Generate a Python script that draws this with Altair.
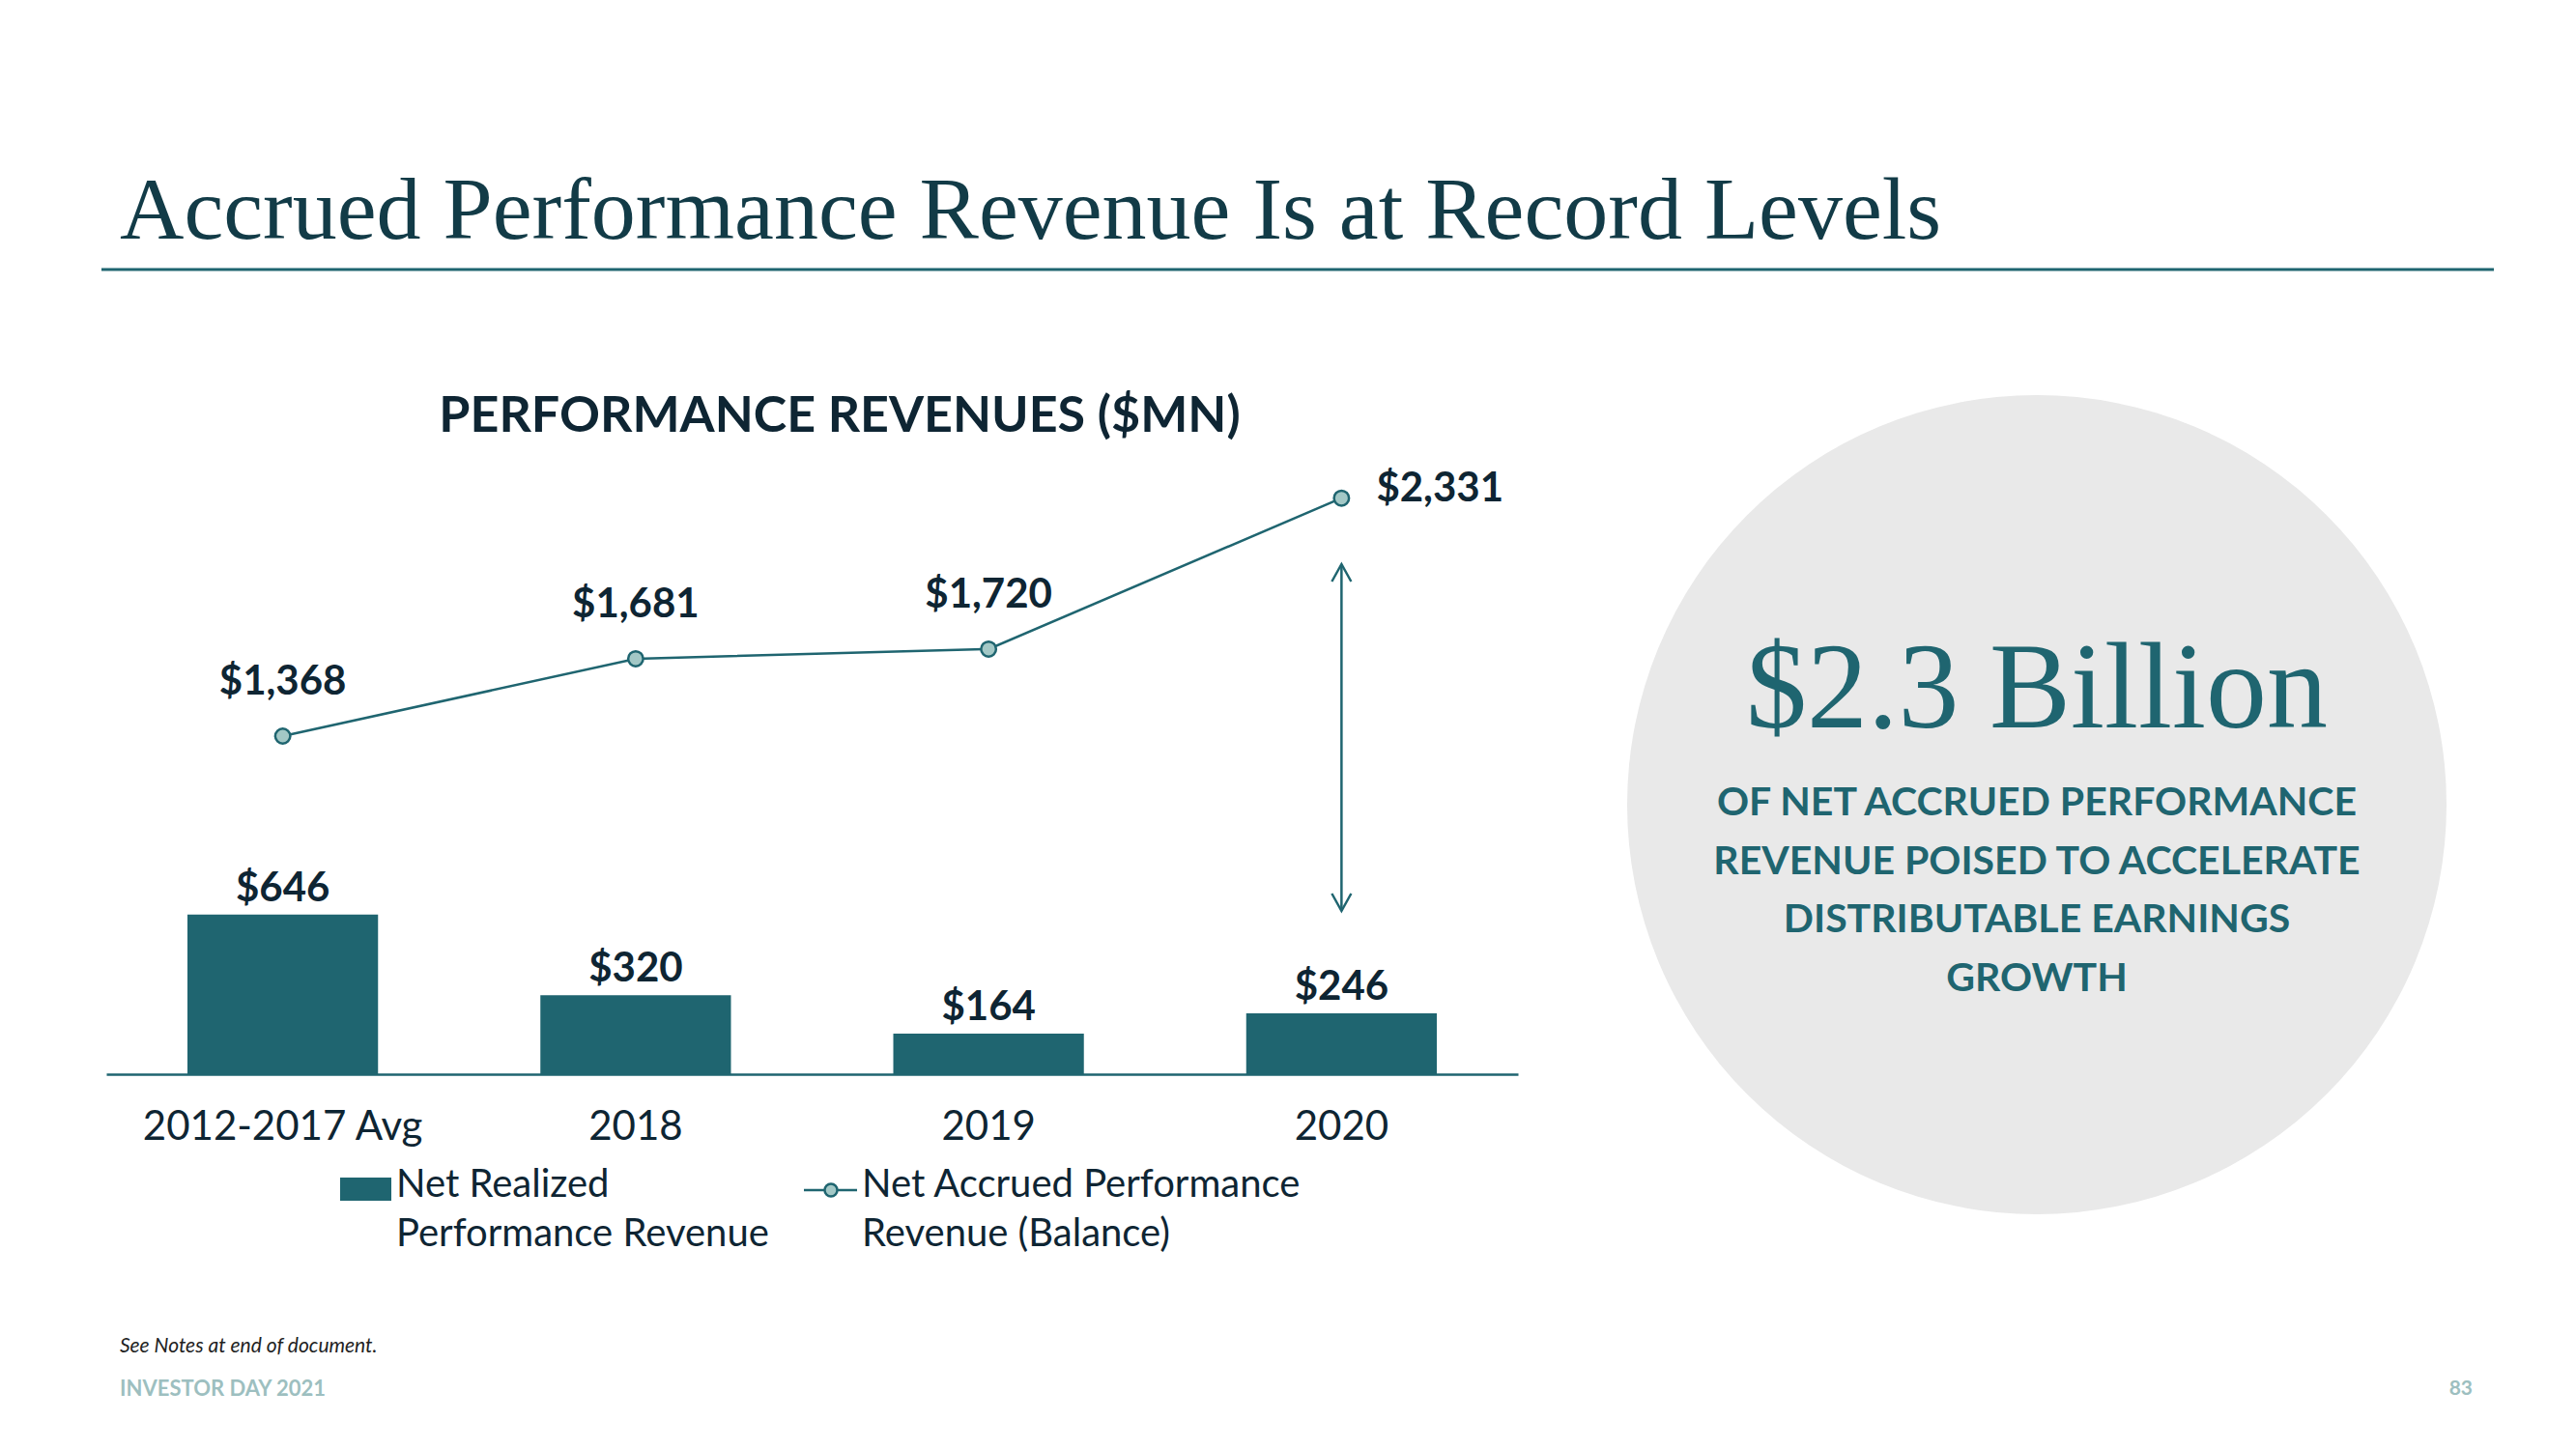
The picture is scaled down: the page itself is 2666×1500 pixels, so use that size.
import altair as alt
import pandas as pd

# ---- data ----
categories = ["2012-2017 Avg", "2018", "2019", "2020"]
realized = [646, 320, 164, 246]
accrued = [1368, 1681, 1720, 2331]
realized_labels = ["$646", "$320", "$164", "$246"]
accrued_labels = ["$1,368", "$1,681", "$1,720", "$2,331"]

title_text = "Accrued Performance Revenue Is at Record Levels"
chart_title = "PERFORMANCE REVENUES ($MN)"
big_number = "$2.3 Billion"
callout_lines = ["OF NET ACCRUED PERFORMANCE", "REVENUE POISED TO ACCELERATE",
                 "DISTRIBUTABLE EARNINGS", "GROWTH"]
legend_bar_lines = ["Net Realized", "Performance Revenue"]
legend_line_lines = ["Net Accrued Performance", "Revenue (Balance)"]
footnote = "See Notes at end of document."
footer_left = "INVESTOR DAY 2021"
footer_right = "83"

TEAL = "#1f6570"
DARK = "#0e2533"
LIGHT_PT = "#a3c8c6"
SANS = "Lato"
SERIF = "Liberation Serif"

df = pd.DataFrame({
    "cat": categories,
    "realized": realized,
    "accrued": accrued,
    "rlab": realized_labels,
    "alab": accrued_labels,
})

W, H = 1461, 712
YMAX = 2783

x_enc = alt.X("cat:N", sort=categories,
              scale=alt.Scale(paddingInner=0.46, paddingOuter=0.23),
              axis=alt.Axis(title=None, labelAngle=0, labelFont=SANS, labelFontSize=42,
                            labelColor=DARK, labelPadding=34, ticks=False, labelLimit=1000,
                            domainColor=TEAL, domainWidth=2.5, grid=False))
y_scale = alt.Scale(domain=[0, YMAX])

base = alt.Chart(df)

bars = base.mark_bar(color=TEAL).encode(
    x=x_enc, y=alt.Y("realized:Q", scale=y_scale, axis=None))
bar_text = base.mark_text(font=SANS, fontSize=42, fontWeight="bold", color=DARK,
                          baseline="alphabetic", dy=-14).encode(
    x=alt.X("cat:N", sort=categories), y=alt.Y("realized:Q", scale=y_scale), text="rlab:N")

line = base.mark_line(color=TEAL, strokeWidth=2.5).encode(
    x=alt.X("cat:N", sort=categories), y=alt.Y("accrued:Q", scale=y_scale))
pts = base.mark_circle(color=LIGHT_PT, stroke=TEAL, strokeWidth=2.5, opacity=1, size=240).encode(
    x=alt.X("cat:N", sort=categories), y=alt.Y("accrued:Q", scale=y_scale))
line_text = base.transform_filter(alt.datum.cat != "2020").mark_text(
    font=SANS, fontSize=42, fontWeight="bold", color=DARK, baseline="middle", dy=-56).encode(
    x=alt.X("cat:N", sort=categories), y=alt.Y("accrued:Q", scale=y_scale), text="alab:N")
last_text = base.transform_filter(alt.datum.cat == "2020").mark_text(
    font=SANS, fontSize=42, fontWeight="bold", color=DARK, baseline="middle", align="left",
    dx=36, dy=-10).encode(
    x=alt.X("cat:N", sort=categories), y=alt.Y("accrued:Q", scale=y_scale), text="alab:N")

# double arrow at 2020
arrow_df = pd.DataFrame({"cat": ["2020"]})
arrow_base = alt.Chart(arrow_df)
arrow = arrow_base.mark_rule(color=TEAL, strokeWidth=2.5).encode(
    x=alt.X("cat:N", sort=categories), y=alt.value(184), y2=alt.value(543))
head_up = arrow_base.mark_point(shape="M-1,1.8L0,0L1,1.8", filled=False, color=TEAL,
                                strokeWidth=2.5, size=400, opacity=1).encode(
    x=alt.X("cat:N", sort=categories), y=alt.value(184))
head_dn = arrow_base.mark_point(shape="M-1,-1.8L0,0L1,-1.8", filled=False, color=TEAL,
                                strokeWidth=2.5, size=400, opacity=1).encode(
    x=alt.X("cat:N", sort=categories), y=alt.value(543))

one = pd.DataFrame({"a": [0]})


def txt(s, x, y, **kw):
    return alt.Chart(one).mark_text(text=s, **kw).encode(x=alt.value(x), y=alt.value(y))


layers = []
# page title and rule
layers.append(txt(title_text, 14, -153, font=SERIF, fontSize=92, color="#123b47",
                  align="left", baseline="alphabetic"))
layers.append(alt.Chart(one).mark_rule(color=TEAL, strokeWidth=3).encode(
    x=alt.value(-5), x2=alt.value(2471), y=alt.value(-121)))
# chart title
layers.append(txt(chart_title, 759, 47, font=SANS, fontSize=52, fontWeight="bold", color=DARK,
                  align="center", baseline="alphabetic"))
# circle callout
layers.append(alt.Chart(one).mark_point(shape="circle", filled=True, color="#e9e9e9",
                                        opacity=1, size=848 * 848).encode(
    x=alt.value(1998), y=alt.value(433)))
layers.append(txt(big_number, 1998, 353, font=SERIF, fontSize=126, color=TEAL,
                  align="center", baseline="alphabetic"))
for i, s in enumerate(callout_lines):
    layers.append(txt(s, 1998, 444 + i * 60.5, font=SANS, fontSize=41, fontWeight="bold",
                      color=TEAL, align="center", baseline="alphabetic"))

# legend
layers.append(alt.Chart(one).mark_rect(color=TEAL).encode(
    x=alt.value(242), x2=alt.value(295), y=alt.value(819), y2=alt.value(843)))
for i, s in enumerate(legend_bar_lines):
    layers.append(txt(s, 300, 839 + i * 51, font=SANS, fontSize=40, color=DARK,
                      align="left", baseline="alphabetic"))
layers.append(alt.Chart(one).mark_rule(color=TEAL, strokeWidth=2.5).encode(
    x=alt.value(722), x2=alt.value(777), y=alt.value(832)))
layers.append(alt.Chart(one).mark_circle(color=LIGHT_PT, stroke=TEAL, strokeWidth=2.5,
                                         opacity=1, size=170).encode(
    x=alt.value(750), y=alt.value(832)))
for i, s in enumerate(legend_line_lines):
    layers.append(txt(s, 782, 839 + i * 51, font=SANS, fontSize=40, color=DARK,
                      align="left", baseline="alphabetic"))

# footer
layers.append(txt(footnote, 14, 994, font=SANS, fontSize=21, fontStyle="italic",
                  color="#222222", align="left", baseline="middle"))
layers.append(txt(footer_left, 14, 1038, font=SANS, fontSize=22, fontWeight="bold",
                  color="#9dbfc0", align="left", baseline="middle"))
layers.append(txt(footer_right, 2449, 1038, font=SANS, fontSize=21, fontWeight="bold",
                  color="#9dbfc0", align="right", baseline="middle"))

chart = alt.layer(
    layers[0], layers[1], layers[2], layers[3],
    bars, bar_text, line, pts, line_text, last_text, arrow, head_up, head_dn,
    *layers[4:]
).properties(
    width=W, height=H,
    autosize=alt.AutoSizeParams(type="none"),
    padding={"left": 102, "top": 392, "right": 1087, "bottom": 380},
    background="white",
).configure_view(strokeWidth=0)

chart.save("out.html", embed_options={"renderer": "svg", "actions": False})
